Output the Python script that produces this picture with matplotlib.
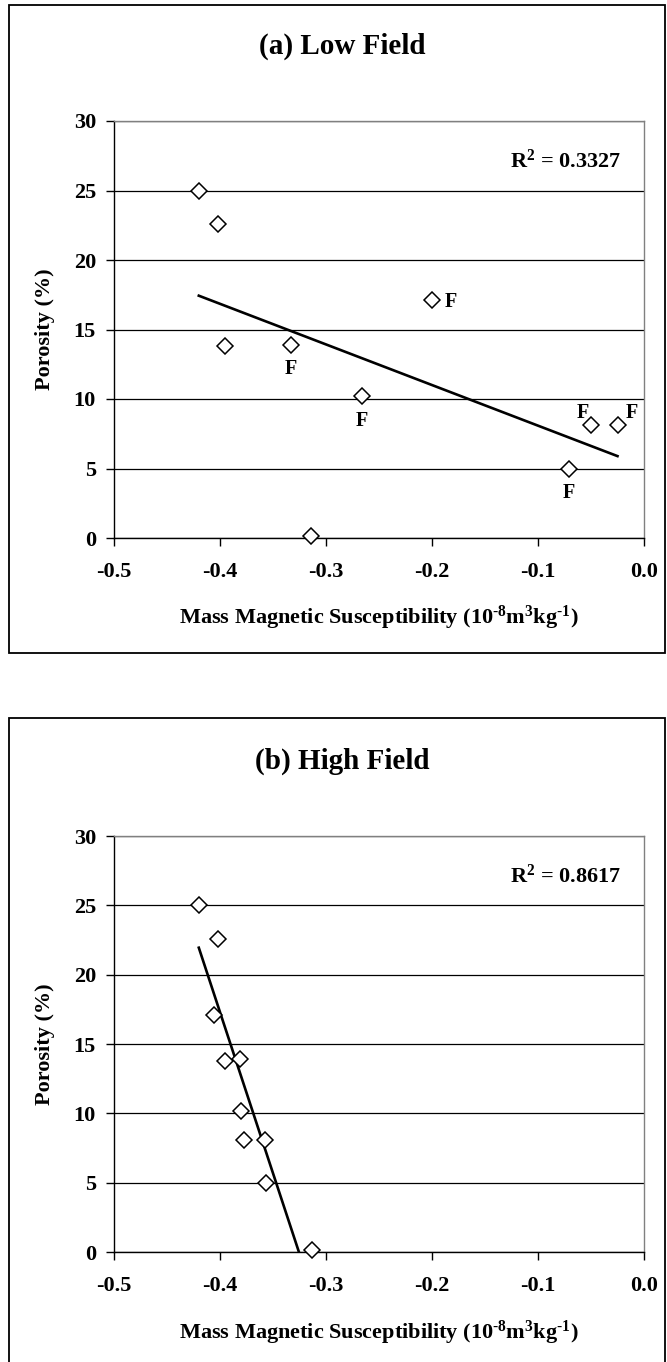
import matplotlib
matplotlib.use("Agg")
import matplotlib.pyplot as plt
import numpy as np
from matplotlib.patches import Rectangle

# ---------------- data ----------------
porosity = [25.0, 22.6, 17.1, 13.8, 13.9, 10.2, 8.1, 8.1, 5.0, 0.15]
low_field_chi = [-0.420, -0.402, -0.200, -0.395, -0.333, -0.266, -0.050, -0.025, -0.071, -0.314]
high_field_chi = [-0.420, -0.402, -0.406, -0.395, -0.381, -0.380, -0.377, -0.358, -0.357, -0.313]
low_field_flags = ["", "", "F", "", "F", "F", "F", "F", "F", ""]
x_ticks = [-0.5, -0.4, -0.3, -0.2, -0.1, 0.0]
x_tick_labels = ["-0.5", "-0.4", "-0.3", "-0.2", "-0.1", "0.0"]
y_ticks = [0, 5, 10, 15, 20, 25, 30]
y_tick_labels = ["0", "5", "10", "15", "20", "25", "30"]
titles = ["(a) Low Field", "(b) High Field"]
r2_labels = ["0.3327", "0.8617"]
x_label = "Mass Magnetic Susceptibility (10$^{\u20108}$m$^{3}$kg$^{\u20101}$)"
y_label = "Porosity (%)"

# ---------------- style ----------------
plt.rcParams["font.family"] = ["Liberation Serif", "DejaVu Serif"]
plt.rcParams["font.weight"] = "bold"
plt.rcParams["mathtext.default"] = "regular"
plt.rcParams["axes.unicode_minus"] = False

W, H = 667, 1362
fig = plt.figure(figsize=(W / 100, H / 100), dpi=100, facecolor="white")

def fx(px):
    return px / W

def fy(py):
    return 1 - py / H

# offsets (points) of the "F" flags, by sample index (top panel only)
flag_offsets = {2: (9, -1, "left", "center"),
                4: (0, -17.5, "center", "center"),
                5: (0, -17.5, "center", "center"),
                6: (-6, 9, "center", "center"),
                7: (10, 9, "center", "center"),
                8: (0, -17.5, "center", "center")}

panels = [
    dict(top=121, bottom=538, border=(9, 5, 665, 653), chi=low_field_chi, flags=True),
    dict(top=836, bottom=1252, border=(9, 718, 665, 1420), chi=high_field_chi, flags=False),
]

for i, p in enumerate(panels):
    x0, y0, x1, y1 = p["border"]
    fig.patches.append(Rectangle((fx(x0), fy(y1)), fx(x1) - fx(x0), fy(y0) - fy(y1),
                                 transform=fig.transFigure, fill=False,
                                 edgecolor="black", linewidth=1.3, zorder=0))
    ax = fig.add_axes([fx(114), fy(p["bottom"]), fx(644) - fx(114),
                       fy(p["top"]) - fy(p["bottom"])])
    ax.set_xlim(-0.5, 0.0)
    ax.set_ylim(0, 30)
    ax.set_xticks(x_ticks)
    ax.set_xticklabels(x_tick_labels)
    ax.set_yticks(y_ticks)
    ax.set_yticklabels(y_tick_labels)
    ax.tick_params(axis="both", direction="out", length=6, width=1, colors="black",
                   labelsize=16)
    ax.tick_params(axis="x", pad=11)
    ax.tick_params(axis="y", pad=7)
    for t in ax.get_xticklabels() + ax.get_yticklabels():
        t.set_fontweight("bold")
    ax.spines["top"].set_color("#808080")
    ax.spines["right"].set_color("#808080")
    ax.spines["left"].set_color("black")
    ax.spines["bottom"].set_color("black")
    for s in ax.spines.values():
        s.set_linewidth(1.0)
    ax.set_axisbelow(True)
    ax.yaxis.grid(True, color="black", linewidth=0.9)

    chi = np.array(p["chi"])
    por = np.array(porosity)
    # linear trend line
    slope, intercept = np.polyfit(chi, por, 1)
    xs = np.array([chi.min(), chi.max()])
    ax.plot(xs, slope * xs + intercept, color="black", linewidth=1.9, zorder=2)
    ax.plot(chi, por, linestyle="none", marker="D", markersize=8,
            markerfacecolor="white", markeredgecolor="black", markeredgewidth=1.1,
            zorder=3, clip_on=False)

    if p["flags"]:
        for k, flag in enumerate(low_field_flags):
            if flag:
                dx, dy, ha, va = flag_offsets[k]
                ax.annotate(flag, (chi[k], por[k]), xytext=(dx, dy),
                            textcoords="offset points", ha=ha, va=va,
                            fontsize=14.5, fontweight="bold")

    off = p["top"] - 121
    fig.text(fx(342), fy(46 + off), titles[i], ha="center", va="center",
             fontsize=21, fontweight="bold")
    fig.text(fx(621), fy(168 + off), "R$^{2}$ = " + r2_labels[i], ha="right",
             va="baseline", fontsize=16, fontweight="bold")
    fig.text(fx(379), fy(618 + off), x_label, ha="center", va="center",
             fontsize=16, fontweight="bold")
    fig.text(fx(45), fy((p["top"] + p["bottom"]) / 2), y_label, ha="center",
             va="center", rotation=90, fontsize=16, fontweight="bold")

fig.savefig("out.png", dpi=100, facecolor="white")
